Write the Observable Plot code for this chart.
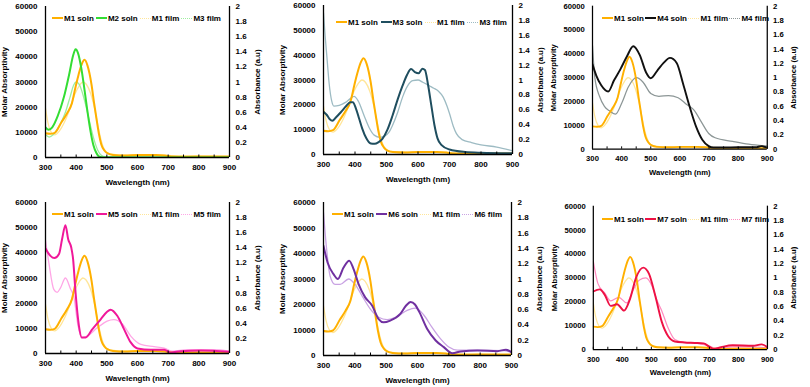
<!DOCTYPE html>
<html><head><meta charset="utf-8">
<script src="https://cdn.jsdelivr.net/npm/d3@7"></script>
<script src="https://cdn.jsdelivr.net/npm/@observablehq/plot@0.6"></script>
<style>
body{margin:0;background:#fff;}
#root{position:relative;width:810px;height:387px;overflow:hidden;background:#fff;font-family:"Liberation Sans",Arial,sans-serif;}
.panel{position:absolute;}
.panel svg{overflow:visible;display:block;}
.legend{position:absolute;display:flex;justify-content:space-between;align-items:center;font:bold 8px "Liberation Sans",Arial,sans-serif;color:#000;white-space:nowrap;height:10px;}
.item{display:flex;align-items:center;}
.sw{display:inline-block;width:11px;height:0;margin-right:1px;}
</style></head>
<body><div id="root"></div>
<script>
// ---------- data ----------
const xTicks = [300,400,500,600,700,800,900];
const xMinorTicks = [300,350,400,450,500,550,600,650,700,750,800,850,900];
const yTicks = [0,10000,20000,30000,40000,50000,60000];
const absTicks = [0,0.2,0.4,0.6,0.8,1,1.2,1.4,1.6,1.8,2];
const absToMolar = 30000; // 2 a.u. on right axis == 60000 on left axis

// solution spectra: [wavelength nm, molar absorptivity]
const m1Soln = [[300,9600],[315,9400],[330,9800],[352,14000],[370,17500],[386,21500],[398,28000],[408,33000],[418,37000],[427,38800],[437,36500],[450,29000],[458,22000],[466,15600],[474,9500],[482,5200],[492,2800],[503,1600],[520,1000],[560,800],[600,1000],[660,1000],[690,800],[710,400],[760,300],[820,400],[900,400]];
const m2Soln = [[300,12000],[310,11000],[322,12000],[340,16500],[360,24000],[378,33500],[390,40500],[398,43000],[406,41500],[416,36000],[426,28000],[436,19000],[446,11000],[456,5000],[466,1800],[476,300],[490,0],[600,0],[900,0]];
const m3Soln = [[300,17200],[310,16000],[320,14200],[328,13600],[340,15000],[355,17000],[372,19500],[385,21000],[393,21000],[403,18500],[413,14500],[423,10400],[436,6500],[450,4400],[462,4300],[475,5000],[487,6300],[503,10000],[519,15600],[535,22000],[551,27700],[565,32000],[578,34400],[590,33200],[602,32700],[614,34500],[622,34000],[632,28000],[642,20000],[652,12000],[662,6500],[675,3800],[700,2000],[750,1000],[800,700],[900,500]];
const m4Soln = [[300,35600],[313,30900],[330,26800],[354,24200],[374,28900],[396,33600],[418,38900],[440,43200],[462,39600],[484,32200],[500,29800],[522,32900],[544,36200],[566,38300],[589,36200],[611,27500],[633,18100],[656,9400],[677,4000],[699,1300],[715,700],[750,700],[800,800],[860,800],[880,1300],[900,700]];
const m5Soln = [[300,41700],[316,38800],[329,37900],[344,39500],[354,45400],[365,51000],[374,45400],[384,42100],[390,37500],[398,24200],[409,11000],[418,6400],[431,6400],[453,9700],[480,13600],[500,16500],[512,17400],[534,15000],[556,9700],[578,4400],[600,2000],[643,1500],[687,1500],[708,400],[741,900],[807,1200],[900,700]];
const m6Soln = [[300,43000],[313,36500],[332,31900],[346,30000],[364,34500],[382,37200],[396,33900],[412,28000],[433,22800],[455,19600],[476,14300],[492,13000],[513,13700],[545,16300],[563,19500],[578,21000],[592,20000],[606,17000],[631,10400],[658,5900],[684,3300],[711,900],[738,1600],[791,2000],[855,1700],[882,2300],[900,1300]];
const m7Soln = [[300,24300],[322,25200],[339,23000],[360,18300],[382,19000],[406,16300],[426,21000],[448,30300],[472,34300],[492,31700],[514,22300],[536,11600],[558,5600],[581,3400],[614,3000],[650,2800],[680,2600],[700,1200],[715,300],[740,1000],[780,1800],[850,1600],[880,2200],[900,1000]];

// film spectra: [wavelength nm, absorbance a.u.]
const m1Film = [[300,0.65],[308,0.46],[318,0.34],[330,0.3],[345,0.35],[362,0.47],[380,0.65],[396,0.84],[410,0.95],[422,1.0],[433,0.97],[447,0.85],[460,0.65],[471,0.42],[482,0.22],[493,0.1],[508,0.05],[550,0.03],[650,0.03],[750,0.02],[900,0.01]];
const greenFilm = [[300,0.3],[312,0.27],[325,0.3],[345,0.42],[365,0.6],[380,0.8],[392,0.96],[400,1.0],[410,0.97],[420,0.86],[432,0.68],[445,0.45],[458,0.24],[470,0.1],[482,0.03],[495,0.01],[600,0.005],[900,0.005]];
const m3Film = [[300,1.9],[305,1.6],[311,1.3],[318,0.95],[326,0.72],[333,0.65],[350,0.66],[370,0.7],[385,0.75],[397,0.78],[410,0.72],[429,0.52],[445,0.36],[461,0.26],[479,0.23],[495,0.25],[508,0.3],[519,0.39],[535,0.56],[551,0.77],[567,0.92],[583,0.99],[600,1.0],[615,0.97],[637,0.92],[650,0.89],[665,0.85],[680,0.77],[692,0.65],[700,0.55],[712,0.38],[722,0.28],[740,0.2],[770,0.16],[800,0.13],[850,0.1],[900,0.05]];
const m4Film = [[300,1.45],[308,1.0],[324,0.74],[341,0.6],[357,0.54],[379,0.49],[401,0.65],[423,0.87],[451,1.0],[473,0.94],[500,0.78],[528,0.74],[561,0.75],[594,0.72],[622,0.63],[650,0.54],[671,0.4],[699,0.22],[721,0.16],[781,0.11],[836,0.07],[900,0.045]];
const m5Film = [[300,1.5],[311,1.2],[327,0.85],[338,0.81],[349,0.87],[365,1.0],[382,0.85],[392,0.76],[406,0.37],[420,0.21],[436,0.23],[469,0.34],[501,0.43],[523,0.45],[551,0.39],[578,0.23],[611,0.12],[654,0.09],[687,0.07],[714,0.03],[763,0.05],[850,0.05],[900,0.03]];
const m6Film = [[300,1.87],[309,1.43],[321,1.04],[337,0.93],[353,0.93],[380,1.0],[401,0.93],[423,0.78],[449,0.61],[476,0.5],[503,0.47],[535,0.51],[567,0.59],[593,0.62],[620,0.53],[646,0.37],[673,0.22],[700,0.11],[727,0.07],[791,0.07],[876,0.065],[900,0.04]];
const m7Film = [[300,1.23],[316,0.92],[339,0.79],[360,0.68],[388,0.73],[415,0.65],[437,0.83],[459,0.97],[481,1.0],[503,0.88],[520,0.68],[536,0.54],[558,0.3],[581,0.14],[614,0.1],[650,0.09],[700,0.05],[720,0.02],[780,0.04],[850,0.04],[900,0.02]];

// ---------- styles / layout ----------
const C = {
  m1Soln:"#FFB000", m1Film:"#FFE699",
  m2Soln:"#33DD33", greenFilm:"#9EEE9E",
  m3Soln:"#1F4E5F", m3Film:"#9DBBC3",
  m4Soln:"#111111", m4Film:"#8C9696",
  m5Soln:"#F0189A", m5Film:"#FFA6E6",
  m6Soln:"#7030A0", m6Film:"#C9A3E3",
  m7Soln:"#EE1144", m7Film:"#FF8CC0"
};
const panels = [
  {frame:{l:45,r:229,t:6,b:157},  legend:{l:52,r:221,y:18},
   series:[["M1 soln",m1Soln,C.m1Soln,"soln"],["M2 soln",m2Soln,C.m2Soln,"soln"],["M1 film",m1Film,C.m1Film,"film"],["M3 film",greenFilm,C.greenFilm,"film"]]},
  {frame:{l:323,r:512,t:5,b:154}, legend:{l:336,r:507,y:22},
   series:[["M1 soln",m1Soln,C.m1Soln,"soln"],["M3 soln",m3Soln,C.m3Soln,"soln"],["M1 film",m1Film,C.m1Film,"film"],["M3 film",m3Film,C.m3Film,"film"]]},
  {frame:{l:594,r:776,t:6,b:155}, legend:{l:602,r:769,y:18},
   series:[["M1 soln",m1Soln,C.m1Soln,"soln"],["M4 soln",m4Soln,C.m4Soln,"soln"],["M1 film",m1Film,C.m1Film,"film"],["M4 film",m4Film,C.m4Film,"film"]]},
  {frame:{l:45,r:229,t:202,b:353}, legend:{l:52,r:221,y:214},
   series:[["M1 soln",m1Soln,C.m1Soln,"soln"],["M5 soln",m5Soln,C.m5Soln,"soln"],["M1 film",m1Film,C.m1Film,"film"],["M5 film",m5Film,C.m5Film,"film"]]},
  {frame:{l:323,r:511,t:202,b:355}, legend:{l:332,r:502,y:214},
   series:[["M1 soln",m1Soln,C.m1Soln,"soln"],["M6 soln",m6Soln,C.m6Soln,"soln"],["M1 film",m1Film,C.m1Film,"film"],["M6 film",m6Film,C.m6Film,"film"]]},
  {frame:{l:595,r:777,t:206,b:356}, legend:{l:602,r:769,y:219},
   series:[["M1 soln",m1Soln,C.m1Soln,"soln"],["M7 soln",m7Soln,C.m7Soln,"soln"],["M1 film",m1Film,C.m1Film,"film"],["M7 film",m7Film,C.m7Film,"film"]]}
];

const root = document.getElementById("root");
const ML=50, MR=45, MT=8, MB=32;
const FONT = '"Liberation Sans", Arial, sans-serif';

for (const p of panels) {
  const f = p.frame;
  const fw = f.r - f.l, fh = f.b - f.t;
  const tickLen = 2.5 / fh * 60000;
  const films = p.series.filter(s => s[3] === "film");
  const solns = p.series.filter(s => s[3] === "soln");
  const lineMarks = [];
  for (const s of films) lineMarks.push(Plot.line(s[1], {x: d => d[0], y: d => d[1]*absToMolar, stroke: s[2], strokeWidth: 1.3, curve: "monotone-x", clip: true}));
  for (const s of solns) lineMarks.push(Plot.line(s[1], {x: d => d[0], y: d => d[1], stroke: s[2], strokeWidth: 2, curve: "monotone-x", clip: true}));
  const svg = Plot.plot({
    width: fw + ML + MR, height: fh + MT + MB,
    marginLeft: ML, marginRight: MR, marginTop: MT, marginBottom: MB,
    x: {domain: [300, 900]},
    y: {domain: [0, 60000]},
    style: {fontFamily: FONT, fontSize: "8px", fontWeight: "bold", color: "#000", background: "transparent", overflow: "visible"},
    marks: [
      ...lineMarks,
      Plot.ruleX(xMinorTicks, {y1: 0, y2: tickLen, stroke: "#000", strokeWidth: 1}),
      Plot.ruleX([300, 900], {stroke: "#000", strokeWidth: 1.3}),
      Plot.ruleY([0], {stroke: "#000", strokeWidth: 1.3}),
      Plot.axisX(xTicks, {anchor: "bottom", tickSize: 0, tickPadding: 7, label: "Wavelength (nm)", labelAnchor: "center", labelOffset: 27, labelArrow: "none"}),
      Plot.axisY(yTicks, {anchor: "left", tickSize: 0, tickPadding: 8, tickFormat: d => String(d), label: "Molar Absorptivity", labelAnchor: "center", labelOffset: 44, labelArrow: "none"}),
      Plot.axisY(absTicks.map(v => v*absToMolar), {anchor: "right", tickSize: 0, tickPadding: 6, tickFormat: d => String(+(d/absToMolar).toFixed(1)), label: "Absorbance (a.u)", labelAnchor: "center", labelOffset: 30, labelArrow: "none"})
    ]
  });
  const div = document.createElement("div");
  div.className = "panel";
  div.style.left = (f.l - ML) + "px";
  div.style.top = (f.t - MT) + "px";
  div.appendChild(svg);
  root.appendChild(div);

  const lg = document.createElement("div");
  lg.className = "legend";
  lg.style.left = p.legend.l + "px";
  lg.style.width = (p.legend.r - p.legend.l) + "px";
  lg.style.top = (p.legend.y - 5) + "px";
  for (const s of p.series) {
    const it = document.createElement("span");
    it.className = "item";
    const sw = document.createElement("span");
    sw.className = "sw";
    sw.style.borderTop = s[3] === "soln" ? `2px solid ${s[2]}` : `1.5px dotted ${s[2]}`;
    it.appendChild(sw);
    it.appendChild(document.createTextNode(s[0]));
    lg.appendChild(it);
  }
  root.appendChild(lg);
}
</script></body></html>
